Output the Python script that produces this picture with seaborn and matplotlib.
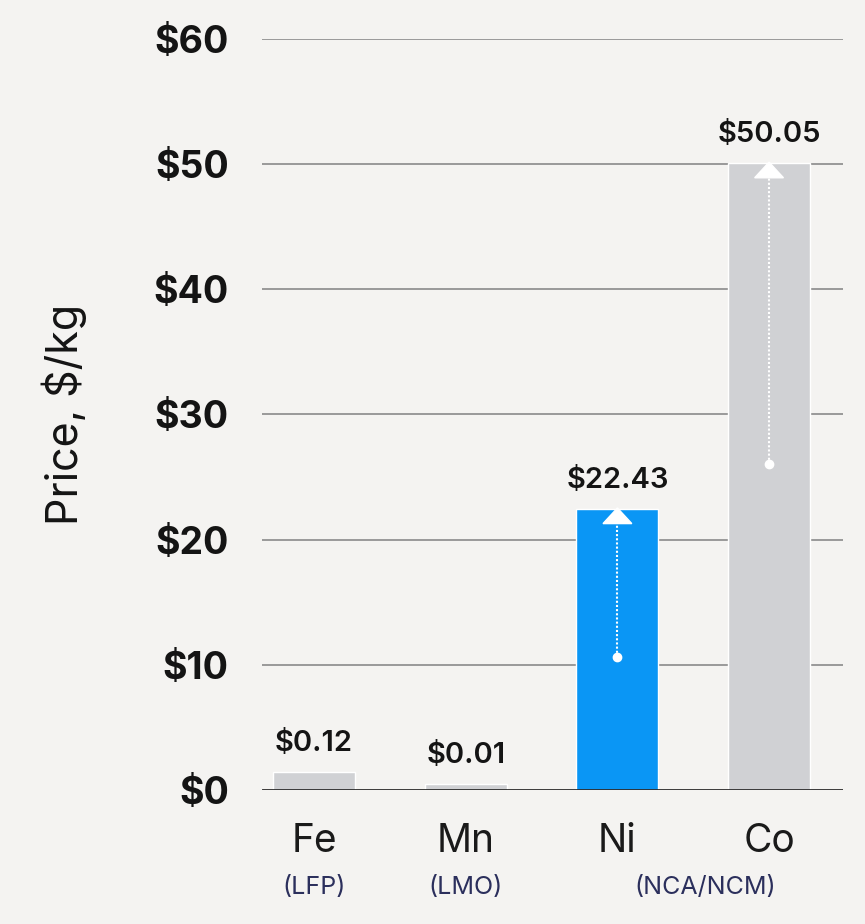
import numpy as np
import matplotlib
matplotlib.use("Agg")
import matplotlib.pyplot as plt
import seaborn as sns
from matplotlib.patches import Polygon

# Data
elements = ["Fe", "Mn", "Ni", "Co"]
chemistries = ["(LFP)", "(LMO)", "(NCA/NCM)"]
chem_pos = [0, 1, 2.58]          # Ni/Co share one chemistry label
price_labels = ["$0.12", "$0.01", "$22.43", "$50.05"]
bar_heights = [1.4, 0.5, 22.43, 50.05]   # small bars drawn with a visible minimum
arrow_from = [None, None, 10.6, 26.0]     # start of the white "rise" arrows
bar_colors = ["#d0d1d4", "#d0d1d4", "#0a96f5", "#d0d1d4"]
yticks = [0, 10, 20, 30, 40, 50, 60]

bg = "#f4f3f1"
sns.set_theme(style="white")
plt.rcParams["font.family"] = ["Inter", "DejaVu Sans"]

fig = plt.figure(figsize=(8.65, 9.24), dpi=100, facecolor=bg)
ax = fig.add_axes([0.303, 0.145, 0.672, 0.813], facecolor=bg)

sns.barplot(x=elements, y=bar_heights, hue=elements, palette=bar_colors,
            width=0.54, legend=False, ax=ax, saturation=1, zorder=3)

ax.set_ylim(0, 60)
ax.set_xlim(-0.343, 3.49)
ax.set_yticks(yticks)
ax.set_yticklabels([f"${t}" for t in yticks], fontsize=27, fontweight="bold",
                   color="#141414")
ax.tick_params(axis="y", length=0, pad=24)
ax.tick_params(axis="x", length=0, pad=24, labelsize=28, labelcolor="#1a1a1a")
for sp in ax.spines.values():
    sp.set_visible(False)

for t in yticks[1:]:
    ax.axhline(t, color="#8a8a8a", lw=1.2, zorder=1)
ax.axhline(0, color="#2a2a2a", lw=2.0, zorder=4)

ax.set_ylabel("Price, $/kg", fontsize=31, color="#141414", labelpad=48)

# value labels
for i, (h, lab) in enumerate(zip(bar_heights, price_labels)):
    ax.text(i, h + 1.2, lab, ha="center", va="bottom", fontsize=21,
            fontweight="semibold", color="#141414", zorder=5)

# white dotted arrows showing the rise
for i, (start, h) in enumerate(zip(arrow_from, bar_heights)):
    if start is None:
        continue
    ax.plot([i, i], [start, h - 1.0], ls=(0, (1, 1)), color="white", lw=1.5, zorder=5)
    ax.plot(i, start, "o", color="white", ms=6, zorder=5)
    ax.add_patch(Polygon([(i - 0.095, h - 1.15), (i + 0.095, h - 1.15), (i, h + 0.1)],
                         closed=True, color="white", zorder=6))

# chemistry sub-labels
for p, c in zip(chem_pos, chemistries):
    ax.text(p, -7.8, c, ha="center", va="center", fontsize=18, color="#2b2f5c")

fig.savefig("out.png", dpi=100, facecolor=bg)
